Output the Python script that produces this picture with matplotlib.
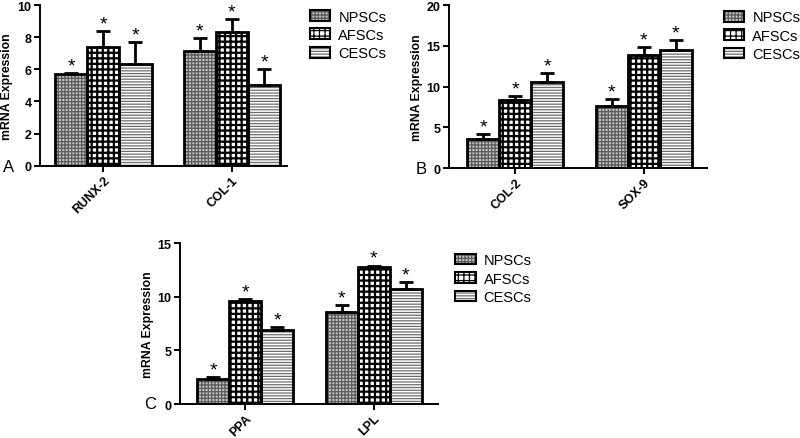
import matplotlib
matplotlib.use("Agg")
import numpy as np
import matplotlib.pyplot as plt
from matplotlib.patches import Patch
from matplotlib.legend_handler import HandlerTuple

plt.rcParams['font.family'] = ['Liberation Sans', 'DejaVu Sans']
plt.rcParams['hatch.linewidth'] = 0.9

# data
groups = ['NPSCs', 'AFSCs', 'CESCs']

genes_a = ['RUNX-2', 'COL-1']
npsc_a = [5.7, 7.15]
afsc_a = [7.4, 8.3]
cesc_a = [6.3, 5.0]
npsc_a_err = [0.07, 0.8]
afsc_a_err = [1.0, 0.8]
cesc_a_err = [1.4, 1.0]

genes_b = ['COL-2', 'SOX-9']
npsc_b = [3.6, 7.65]
afsc_b = [8.4, 13.85]
cesc_b = [10.5, 14.5]
npsc_b_err = [0.6, 0.8]
afsc_b_err = [0.45, 1.0]
cesc_b_err = [1.1, 1.2]

genes_c = ['PPA', 'LPL']
npsc_c = [2.33, 8.6]
afsc_c = [9.6, 12.8]
cesc_c = [6.9, 10.7]
npsc_c_err = [0.18, 0.65]
afsc_c_err = [0.18, 0.1]
cesc_c_err = [0.3, 0.65]

# fill style per cell type: face, hatch, hatch colour, hatch line width
styles = {
    'NPSCs': ('#c4c4c4', '+++++', '#5a5a5a', 0.9),
    'AFSCs': ('white', '+++', 'black', 1.6),
    'CESCs': ('white', '------', '#6e6e6e', 0.9),
}


def draw_panel(ax, genes, vals, errs, ymax, ystep, xlim):
    x = np.arange(len(genes)) * 4.0
    for i, name in enumerate(groups):
        face, hatch, hcol, hlw = styles[name]
        pos = x + (i - 1)
        with plt.rc_context({'hatch.linewidth': hlw}):
            ax.bar(pos, vals[i], width=1.0, color=face, hatch=hatch,
                   edgecolor=hcol, linewidth=0, zorder=2)
        ax.bar(pos, vals[i], width=1.0, fill=False, edgecolor='black',
               linewidth=2.0, zorder=3)
        ax.errorbar(pos, vals[i], yerr=[np.zeros(len(genes)), errs[i]],
                    fmt='none', ecolor='black', elinewidth=2, capsize=5,
                    capthick=2, zorder=4)
        for p, v, e in zip(pos, vals[i], errs[i]):
            ax.annotate('*', (p, v + e), xytext=(0, -1), textcoords='offset points',
                        ha='center', va='bottom', fontsize=14)
    ax.set_xlim(*xlim)
    ax.set_ylim(0, ymax)
    ax.set_yticks(np.arange(0, ymax + 0.1, ystep))
    ax.set_xticks(x)
    ax.set_xticklabels(genes, rotation=45, ha='right', rotation_mode='anchor',
                       fontweight='bold', fontsize=9)
    for lab in ax.get_yticklabels():
        lab.set_fontweight('bold')
        lab.set_fontsize(9)
    ax.spines['top'].set_visible(False)
    ax.spines['right'].set_visible(False)
    ax.spines['left'].set_linewidth(1.4)
    ax.spines['bottom'].set_linewidth(1.4)
    ax.tick_params(axis='both', width=1.4, length=4, pad=2)
    ax.set_ylabel('mRNA Expression', fontweight='bold', fontsize=8.8, labelpad=3)


def legend_handles():
    hs = []
    for name in groups:
        face, hatch, hcol, hlw = styles[name]
        hs.append((Patch(facecolor=face, hatch=hatch, edgecolor=hcol, linewidth=0),
                   Patch(fill=False, edgecolor='black', linewidth=1.5)))
    return hs


fig = plt.figure(figsize=(8.0, 4.39), dpi=100)

ax_a = fig.add_axes([0.05, 0.6203, 0.309, 0.366])
draw_panel(ax_a, genes_a, [npsc_a, afsc_a, cesc_a], [npsc_a_err, afsc_a_err, cesc_a_err],
           10, 2, (-1.97, 5.72))

ax_b = fig.add_axes([0.5613, 0.615, 0.3225, 0.3713])
draw_panel(ax_b, genes_b, [npsc_b, afsc_b, cesc_b], [npsc_b_err, afsc_b_err, cesc_b_err],
           20, 5, (-2.06, 5.97))

ax_c = fig.add_axes([0.225, 0.0774, 0.3225, 0.3667])
draw_panel(ax_c, genes_c, [npsc_c, afsc_c, cesc_c], [npsc_c_err, afsc_c_err, cesc_c_err],
           15, 5, (-2.03, 6.0))

for ax, lx, ly in [(ax_a, 0.3875, 0.976), (ax_b, 0.905, 0.974), (ax_c, 0.569, 0.421)]:
    ax.legend(legend_handles(), groups, handler_map={tuple: HandlerTuple(ndivide=1)},
              loc='upper left', bbox_to_anchor=(lx, ly), bbox_transform=fig.transFigure,
              frameon=False, fontsize=10.5, handlelength=1.4, handleheight=0.75,
              labelspacing=0.3, handletextpad=0.55, borderaxespad=0, borderpad=0)

fig.text(0.004, 0.618, 'A', fontsize=12, va='center')
fig.text(0.519, 0.615, 'B', fontsize=12, va='center')
fig.text(0.18, 0.078, 'C', fontsize=12, va='center')

fig.savefig('out.png', dpi=100)
